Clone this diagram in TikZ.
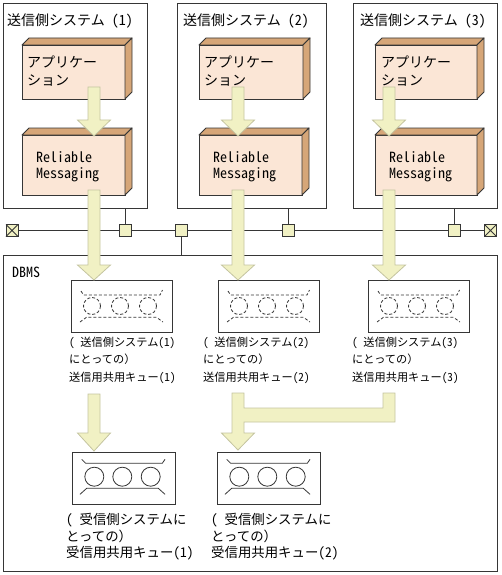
\documentclass[tikz,border=0pt]{standalone}
\usepackage{fontspec}
\newfontfamily\jp{Noto Sans CJK JP}
\newfontfamily\jph[RawFeature=+hwid]{Noto Sans CJK JP}
\definecolor{frontc}{HTML}{FBE6D6}
\definecolor{sidec}{HTML}{D6A678}
\definecolor{arrfill}{HTML}{F1F1C4}
\definecolor{arrline}{HTML}{C4C4A0}
\definecolor{sqfill}{HTML}{F1F1C4}
\definecolor{lnc}{HTML}{363636}
\newcommand\lpar{\makebox[1em][l]{\jph(}}
\tikzset{
  ln/.style={draw=lnc, line width=0.9pt},
  sysbox/.style={ln, rectangle, inner sep=0pt, outer sep=0pt, anchor=north west},
  frontface/.style={ln, fill=frontc, rectangle, inner sep=0pt, outer sep=0pt, anchor=north west},
  sideface/.style={ln, fill=sidec, line join=round},
  blockarrow/.style={draw=arrline, fill=arrfill, line width=0.8pt, line join=miter},
  qbox/.style={ln, rectangle, inner sep=0pt, outer sep=0pt, anchor=north west, fill=white, minimum height=52},
  dq/.style={draw=lnc, line width=0.8pt, dash pattern=on 3pt off 2pt},
  sq/.style={ln, fill=sqfill, rectangle, minimum size=12, inner sep=0pt, outer sep=0pt},
  ttl/.style={font=\jp\fontsize{14}{16}\selectfont, inner sep=0pt, anchor=base west},
  rmtxt/.style={font=\jph\fontsize{14}{16}\selectfont, inner sep=0pt, anchor=base west},
  lbl/.style={font=\jp\fontsize{11.2}{14}\selectfont, inner sep=0pt, anchor=base west},
  rlbl/.style={font=\jp\fontsize{13.4}{15}\selectfont, inner sep=0pt, anchor=base west},
}
\newcommand\cuboid[5]{%
  \node[frontface, minimum width={#4-#2}, minimum height={#5-#3}] (#1) at (#2,#3) {};
  \draw[sideface] (#1.north west) -- ++(7,-7) -- ++({#4-#2},0) -- (#1.north east) -- cycle;
  \draw[sideface] (#1.north east) -- ++(7,-7) -- ++(0,{#5-#3}) -- (#1.south east) -- cycle;
}
\newcommand\dnarrow[4]{%
  \draw[blockarrow] ({#1-6},#2) -- ({#1+6},#2) -- ({#1+6},#3) -- ({#1+16.5},#3) -- (#1,#4) -- ({#1-16.5},#3) -- ({#1-6},#3) -- cycle;
}
\newcommand\sendq[3]{%
  \node[qbox, minimum width=101] (#1) at (#2,#3) {};
  \begin{scope}[shift={(#1.north west)}]
    \draw[dq] (10,11) -- (12.5,15) -- (89,15) -- (91.5,10);
    \draw[dq] (21,26) circle[radius=8.5];
    \draw[dq] (49,26) circle[radius=8.5];
    \draw[dq] (77,26) circle[radius=8.5];
    \draw[dq] (9,42) -- (15.5,37.3) -- (85.5,37.3) -- (92,42);
  \end{scope}
}
\newcommand\recvq[3]{%
  \node[qbox, minimum width=103] (#1) at (#2,#3) {};
  \begin{scope}[shift={(#1.north west)}]
    \draw[ln, line width=0.8pt] (9.7,7.3) -- (13.7,11.3) -- (90.3,11.3) -- (93,7.3);
    \draw[ln, line width=0.8pt] (22.3,24.7) circle[radius=9.5];
    \draw[ln, line width=0.8pt] (50.3,24.7) circle[radius=9.5];
    \draw[ln, line width=0.8pt] (78.7,24.7) circle[radius=9.5];
    \draw[ln, line width=0.8pt] (8,42.3) -- (14.7,36.3) -- (86.3,36.3) -- (93,42.3);
  \end{scope}
}
\begin{document}
\begin{tikzpicture}[x=1pt,y=-1pt]
\useasboundingbox (0,0) rectangle (501,575);
% system boxes
\node[sysbox, minimum width=144, minimum height=205] (sys1) at (3,3) {};
\node[sysbox, minimum width=149, minimum height=205] (sys2) at (177,3) {};
\node[sysbox, minimum width=144, minimum height=205] (sys3) at (353,3) {};
\node[sysbox, minimum width=494, minimum height=316] (dbms) at (3,255) {};
% titles
\node[ttl] (t1) at (7,25.5) {送信側システム\hspace{7pt}{\jph(1)}};
\node[ttl] (t2) at (183,25.5) {送信側システム\hspace{7pt}{\jph(2)}};
\node[ttl] (t3) at (360,25.5) {送信側システム\hspace{7pt}{\jph(3)}};
% cuboids
\cuboid{app1}{22}{45}{125}{99}
\cuboid{app2}{199}{45}{303}{99}
\cuboid{app3}{375}{45}{477}{99}
\cuboid{rm1}{22}{135}{125}{195}
\cuboid{rm2}{199}{135}{302}{195}
\cuboid{rm3}{375}{135}{477}{195}
\node[ttl] (a1a) at (27,67.5) {アプリケー};
\node[ttl] (a1b) at (27,85.5) {ション};
\node[ttl] (a2a) at (204,67.5) {アプリケー};
\node[ttl] (a2b) at (204,85.5) {ション};
\node[ttl] (a3a) at (381,67.5) {アプリケー};
\node[ttl] (a3b) at (381,85.5) {ション};
\node[rmtxt] (r1a) at (36,162) {Reliable};
\node[rmtxt] (r1b) at (36,178) {Messaging};
\node[rmtxt] (r2a) at (213,162) {Reliable};
\node[rmtxt] (r2b) at (213,178) {Messaging};
\node[rmtxt] (r3a) at (389,162) {Reliable};
\node[rmtxt] (r3b) at (389,178) {Messaging};
% network
\node[sq] (e1) at (12,230.5) {};
\node[sq] (s1) at (125.5,230.5) {};
\node[sq] (s2) at (181.5,230.5) {};
\node[sq] (s3) at (288,230.5) {};
\node[sq] (s4) at (454.5,230.5) {};
\node[sq] (e2) at (490.5,230.5) {};
\draw[ln] (e1.north west) -- (e1.south east) (e1.north east) -- (e1.south west);
\draw[ln] (e2.north west) -- (e2.south east) (e2.north east) -- (e2.south west);
\draw[ln] (e1) -- (s1);
\draw[ln] (s1) -- (s2);
\draw[ln] (s2) -- (s3);
\draw[ln] (s3) -- (s4);
\draw[ln] (s4) -- (e2);
\draw[ln] (s1) -- (s1 |- sys1.south);
\draw[ln] (s2) -- (s2 |- dbms.north);
\draw[ln] (s3) -- (s3 |- sys2.south);
\draw[ln] (s4) -- (s4 |- sys3.south);
% DBMS
\node[rmtxt] (dbl) at (12,277) {DBMS};
\sendq{q1}{71}{280}
\sendq{q2}{218}{280}
\sendq{q3}{368}{280}
\recvq{rq1}{72}{452}
\recvq{rq2}{217}{452}
\node[lbl] (l1a) at (69,346.3) {\lpar 送信側システム{\jph(1)}};
\node[lbl] (l1b) at (69,363.8) {にとっての）};
\node[lbl] (l1c) at (69,381.3) {送信用共用キュー{\jph(1)}};
\node[lbl] (l2a) at (203,346.3) {\lpar 送信側システム{\jph(2)}};
\node[lbl] (l2b) at (203,363.8) {にとっての）};
\node[lbl] (l2c) at (203,381.3) {送信用共用キュー{\jph(2)}};
\node[lbl] (l3a) at (352,346.3) {\lpar 送信側システム{\jph(3)}};
\node[lbl] (l3b) at (352,363.8) {にとっての）};
\node[lbl] (l3c) at (352,381.3) {送信用共用キュー{\jph(3)}};
\node[rlbl] (m1a) at (66,524) {\lpar 受信側システムに};
\node[rlbl] (m1b) at (66,541) {とっての）};
\node[rlbl] (m1c) at (66,557) {受信用共用キュー{\jph(1)}};
\node[rlbl] (m2a) at (211,524) {\lpar 受信側システムに};
\node[rlbl] (m2b) at (211,541) {とっての）};
\node[rlbl] (m2c) at (211,557) {受信用共用キュー{\jph(2)}};
% arrows
\dnarrow{94}{87}{120}{136}
\dnarrow{238}{87}{120}{136}
\dnarrow{389}{87}{120}{136}
\dnarrow{94}{190}{265}{280}
\dnarrow{238}{190}{265}{280}
\dnarrow{389}{190}{265}{280}
\dnarrow{94}{394}{433}{451}
\draw[blockarrow] (232,393) -- (244,393) -- (244,408) -- (383,408) -- (383,393) -- (395,393) -- (395,422) -- (244,422) -- (244,433) -- (254.5,433) -- (238,450) -- (221.5,433) -- (232,433) -- cycle;
\end{tikzpicture}
\end{document}
